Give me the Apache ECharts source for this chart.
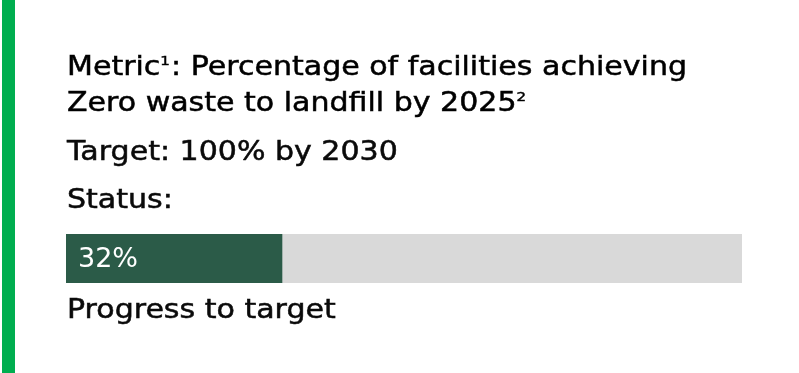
<!DOCTYPE html>
<html><head><meta charset="utf-8">
<script src="https://cdn.jsdelivr.net/npm/echarts@6/dist/echarts.min.js"></script>
<style>html,body{margin:0;padding:0;background:#fff}#c{width:799px;height:373px}</style>
</head><body><div id="c"></div>
<script>
const categories = ['Progress'];
const progressValues = [32];
const targetValues = [100];
const titleLine1 = ['Metric', '1', ': Percentage of facilities achieving'];
const titleLine2 = ['Zero waste to landfill by 2025', '2'];
const targetText = 'Target: 100% by 2030';
const statusText = 'Status:';
const footerText = 'Progress to target';

const FONT = 'DejaVu Sans';
const FS = 26;
const SX = 1.155;
const INK = '#0a0a0a';
const chart = echarts.init(document.getElementById('c'), null, {renderer: 'canvas'});
const baseStyle = {fontFamily: FONT, fontSize: FS, fontWeight: 'normal', fill: INK, stroke: INK, lineWidth: 0.5};
const rich = {
  n: {fontFamily: FONT, fontSize: FS, color: INK},
  s: {fontFamily: FONT, fontSize: 13, color: INK, verticalAlign: 'top', padding: [0,1,14,0]}
};
function txt(y, style) { return {type: 'text', x: 67, y: y, scaleX: SX, originX: 0, originY: 0, style: style}; }
chart.setOption({
  animation: false,
  grid: {left: 66, right: 57, top: 234, height: 49, containLabel: false},
  xAxis: {type: 'value', min: 0, max: 100, show: false},
  yAxis: {type: 'category', data: categories, show: false},
  series: [
    {type: 'bar', data: targetValues, barWidth: 49, barGap: '-100%', itemStyle: {color: '#D9D9D9'}, silent: true, z: 1},
    {type: 'bar', data: progressValues, barWidth: 49, itemStyle: {color: '#2B5B48'}, z: 2,
     label: {show: true, position: 'insideLeft', offset: [7, 1], formatter: p => p.value + '%', color: '#fff', fontFamily: FONT, fontSize: 27}}
  ],
  graphic: [
    {type: 'rect', shape: {x: 2, y: 0, width: 13, height: 373}, style: {fill: '#00AE4F'}},
    txt(55, {text: '{n|' + titleLine1[0] + '}{s|' + titleLine1[1] + '}{n|' + titleLine1[2] + '}', rich: rich, stroke: INK, lineWidth: 0.5}),
    txt(91, {text: '{n|' + titleLine2[0] + '}{s|' + titleLine2[1] + '}', rich: rich, stroke: INK, lineWidth: 0.5}),
    txt(140, Object.assign({text: targetText}, baseStyle)),
    txt(188, Object.assign({text: statusText}, baseStyle)),
    txt(298, Object.assign({text: footerText}, baseStyle))
  ]
});
</script></body></html>
